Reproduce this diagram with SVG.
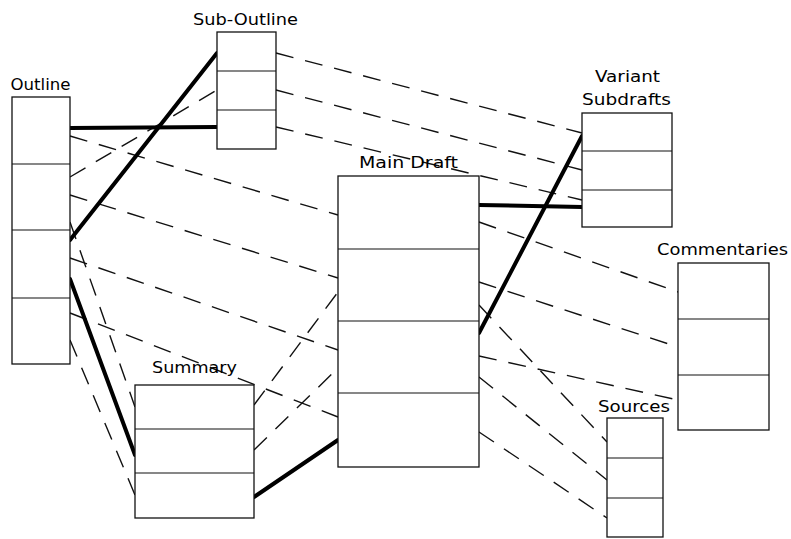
<svg xmlns="http://www.w3.org/2000/svg" width="791" height="539" viewBox="0 0 791 539">
<style>
.bg{fill:#fff}
.box{fill:#fff;stroke:#111;stroke-width:1.3}
.div{stroke:#111;stroke-width:1.2;fill:none}
.thick{stroke:#000;stroke-width:4;fill:none;stroke-linecap:round}
.dash{stroke:#111;stroke-width:1.4;fill:none;stroke-dasharray:18 12}
.lbl{font-family:"DejaVu Sans","Liberation Sans",sans-serif;font-size:16px;fill:#000;text-anchor:middle}
</style>
<rect class="bg" x="0" y="0" width="791" height="539"/>
<g id="connectors">
<line class="dash" x1="276" y1="53" x2="582" y2="133"/>
<line class="dash" x1="276" y1="90" x2="582" y2="170"/>
<line class="dash" x1="276" y1="127" x2="582" y2="200"/>
<line class="dash" x1="70" y1="136" x2="338" y2="215"/>
<line class="dash" x1="70" y1="177" x2="217" y2="90"/>
<line class="dash" x1="70" y1="195" x2="338" y2="278"/>
<line class="dash" x1="70" y1="222" x2="135" y2="407"/>
<line class="dash" x1="70" y1="258" x2="338" y2="350"/>
<line class="dash" x1="70" y1="313" x2="338" y2="417"/>
<line class="dash" x1="70" y1="340" x2="135" y2="495"/>
<line class="dash" x1="254" y1="405" x2="338" y2="292"/>
<line class="dash" x1="254" y1="450" x2="338" y2="368"/>
<line class="dash" x1="479" y1="222" x2="678" y2="292"/>
<line class="dash" x1="479" y1="282" x2="678" y2="347"/>
<line class="dash" x1="479" y1="305" x2="607" y2="442"/>
<line class="dash" x1="479" y1="356" x2="678" y2="400"/>
<line class="dash" x1="479" y1="377" x2="607" y2="480"/>
<line class="dash" x1="479" y1="432" x2="607" y2="518"/>
<line class="thick" x1="70" y1="128" x2="217" y2="127"/>
<line class="thick" x1="70" y1="240" x2="217" y2="53"/>
<line class="thick" x1="70" y1="279" x2="135" y2="455"/>
<line class="thick" x1="254" y1="497" x2="338" y2="440"/>
<line class="thick" x1="479" y1="205" x2="582" y2="207"/>
<line class="thick" x1="479" y1="333" x2="582" y2="136"/>
</g>
<g id="outline">
<rect class="box" x="12" y="97" width="58" height="267"/>
<path class="div" d="M12 164H70M12 230H70M12 298H70"/>
<text class="lbl" x="40.5" y="90" textLength="60" lengthAdjust="spacingAndGlyphs">Outline</text>
</g>
<g id="sub-outline">
<rect class="box" x="217" y="32" width="59" height="117"/>
<path class="div" d="M217 71H276M217 110H276"/>
<text class="lbl" x="245.5" y="25" textLength="105" lengthAdjust="spacingAndGlyphs">Sub-Outline</text>
</g>
<g id="main-draft">
<rect class="box" x="338" y="176" width="141" height="291"/>
<path class="div" d="M338 249H479M338 321H479M338 393H479"/>
<text class="lbl" x="408.5" y="168" textLength="99" lengthAdjust="spacingAndGlyphs">Main Draft</text>
</g>
<g id="variant-subdrafts">
<rect class="box" x="582" y="113" width="90" height="114"/>
<path class="div" d="M582 151H672M582 190H672"/>
<text class="lbl" x="627.5" y="82" textLength="65" lengthAdjust="spacingAndGlyphs">Variant</text>
<text class="lbl" x="626.5" y="105" textLength="89" lengthAdjust="spacingAndGlyphs">Subdrafts</text>
</g>
<g id="commentaries">
<rect class="box" x="678" y="263" width="91" height="167"/>
<path class="div" d="M678 319H769M678 375H769"/>
<text class="lbl" x="722.5" y="255" textLength="131" lengthAdjust="spacingAndGlyphs">Commentaries</text>
</g>
<g id="summary">
<rect class="box" x="135" y="385" width="119" height="133"/>
<path class="div" d="M135 429H254M135 473H254"/>
<text class="lbl" x="194.5" y="373" textLength="85" lengthAdjust="spacingAndGlyphs">Summary</text>
</g>
<g id="sources">
<rect class="box" x="607" y="418" width="56" height="119"/>
<path class="div" d="M607 458H663M607 498H663"/>
<text class="lbl" x="634" y="412" textLength="72" lengthAdjust="spacingAndGlyphs">Sources</text>
</g>
</svg>
